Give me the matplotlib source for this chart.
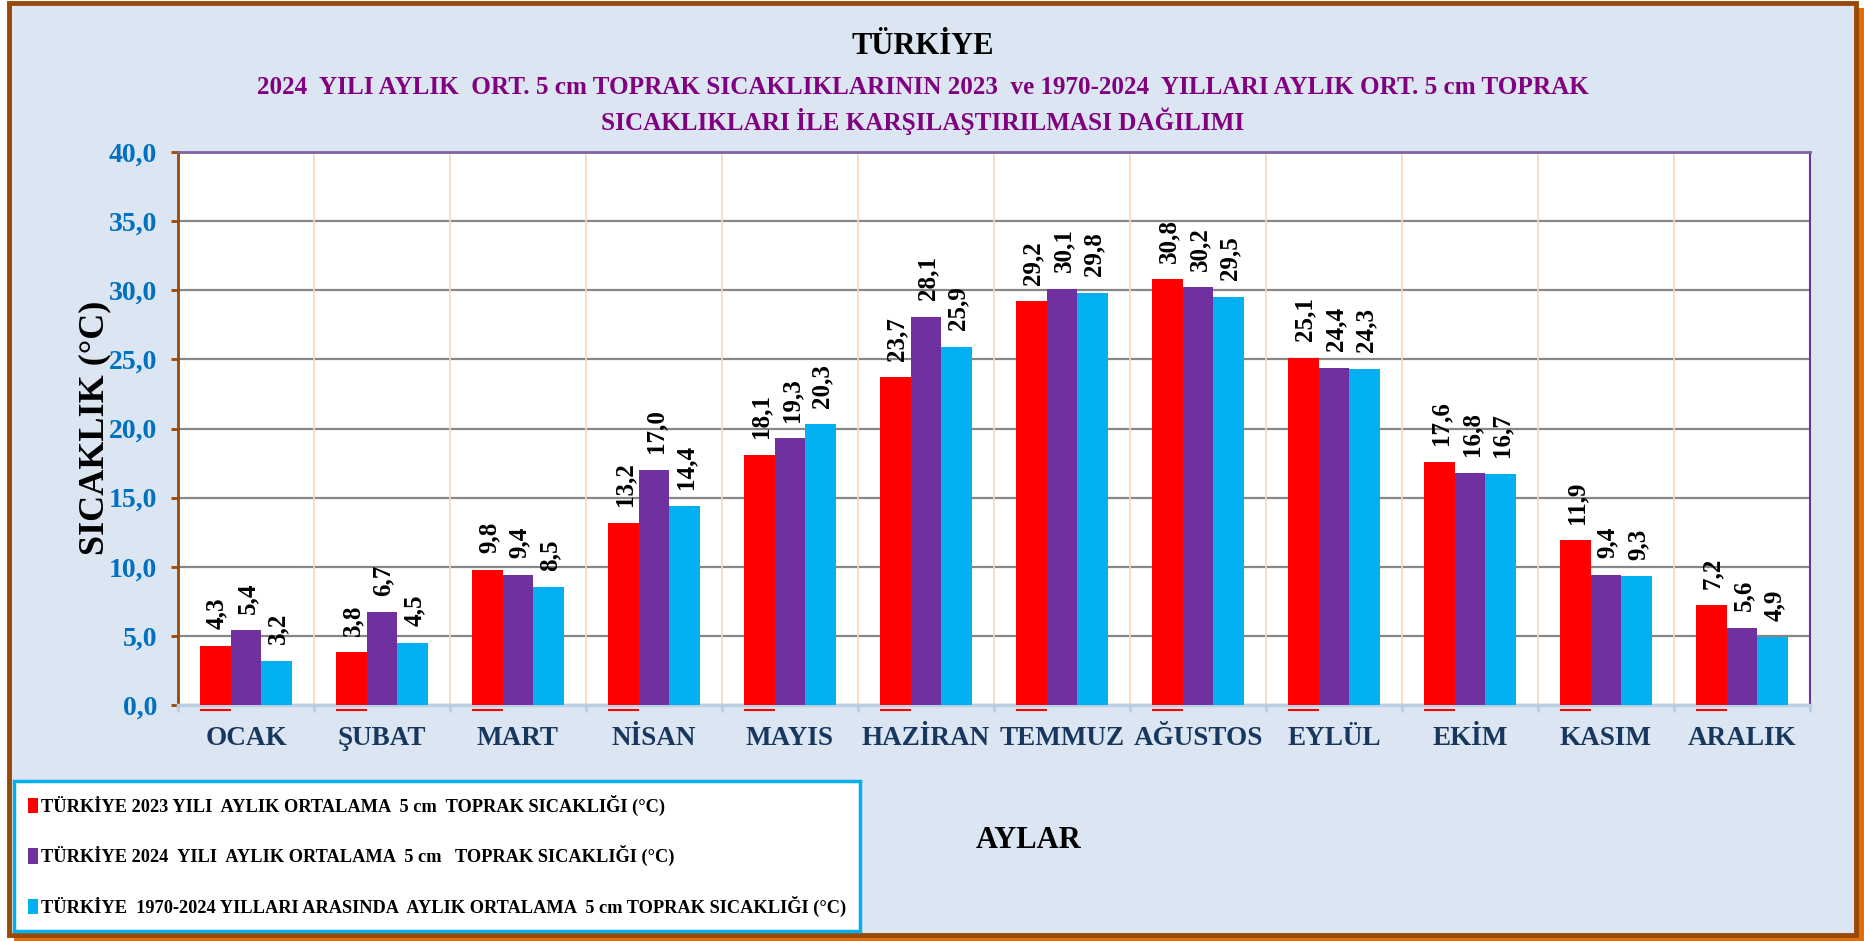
import numpy as np
import matplotlib.pyplot as plt
from matplotlib.patches import Rectangle

months = ['OCAK', 'ŞUBAT', 'MART', 'NİSAN', 'MAYIS', 'HAZİRAN', 'TEMMUZ',
          'AĞUSTOS', 'EYLÜL', 'EKİM', 'KASIM', 'ARALIK']
t2023 = [4.3, 3.8, 9.8, 13.2, 18.1, 23.7, 29.2, 30.8, 25.1, 17.6, 11.9, 7.2]
t2024 = [5.4, 6.7, 9.4, 17.0, 19.3, 28.1, 30.1, 30.2, 24.4, 16.8, 9.4, 5.6]
t_long = [3.2, 4.5, 8.5, 14.4, 20.3, 25.9, 29.8, 29.5, 24.3, 16.7, 9.3, 4.9]
names = ['TÜRKİYE 2023 YILI  AYLIK ORTALAMA  5 cm  TOPRAK SICAKLIĞI (°C)',
         'TÜRKİYE 2024  YILI  AYLIK ORTALAMA  5 cm   TOPRAK SICAKLIĞI (°C)',
         'TÜRKİYE  1970-2024 YILLARI ARASINDA  AYLIK ORTALAMA  5 cm TOPRAK SICAKLIĞI (°C)']
yticks = np.arange(0, 41, 5)

title = 'TÜRKİYE'
sub1 = '2024  YILI AYLIK  ORT. 5 cm TOPRAK SICAKLIKLARININ 2023  ve 1970-2024  YILLARI AYLIK ORT. 5 cm TOPRAK'
sub2 = 'SICAKLIKLARI İLE KARŞILAŞTIRILMASI DAĞILIMI'

plt.rcParams['font.family'] = ['Liberation Serif', 'DejaVu Serif']
plt.rcParams['font.weight'] = 'bold'

W, H = 1865, 941
fig = plt.figure(figsize=(W / 100, H / 100), dpi=100)
fig.patch.set_facecolor('white')
rend = fig.canvas.get_renderer()


def fit_size(s, target, size0=20):
    # font size giving the text a wanted pixel width
    t = fig.text(0, 0, s, fontsize=size0, fontweight='bold')
    w = t.get_window_extent(rend).width
    t.remove()
    return size0 * target / w


# panel background with brown border and orange shadow
fig.patches.append(Rectangle((14 / W, 0), (W - 14) / W, (H - 8) / H, transform=fig.transFigure,
                             facecolor='#E46C0A', edgecolor='none', zorder=-3))
fig.patches.append(Rectangle((9.5 / W, 6 / H), (1856 - 9.5) / W, (938 - 6) / H, transform=fig.transFigure,
                             facecolor='#DCE6F2', edgecolor='#984807', lw=3.5, zorder=-2))

ax = fig.add_axes([178 / W, 1 - 705 / H, (1810 - 178) / W, (705 - 152) / H])
ax.set_facecolor('white')

x = np.arange(len(months))
bw = 0.225
colors = ['#FF0000', '#7030A0', '#00B0F0']
handles = []
for k, (vals, c) in enumerate(zip([t2023, t2024, t_long], colors)):
    bars = ax.bar(x + (k - 1) * bw, vals, bw, color=c, zorder=3, label=names[k])
    handles.append(bars)
    for b, v in zip(bars, vals):
        ax.annotate(f'{v:.1f}'.replace('.', ','), (b.get_x() + b.get_width() / 2, v),
                    xytext=(1, 12), textcoords='offset points', rotation=90,
                    ha='center', va='bottom', fontsize=18, fontweight='bold', color='black')

# little red strokes under the red bars
ax.hlines(np.full(len(x), -0.35), x - 1.5 * bw, x - 0.5 * bw, colors='red', lw=1.5,
          clip_on=False, zorder=4)

ax.set_xlim(-0.5, len(months) - 0.5)
ax.set_ylim(0, 40)
ax.set_yticks(yticks, [f'{v:.1f}'.replace('.', ',') for v in yticks])
ax.tick_params(axis='y', length=5, width=2, color='#984807', pad=10,
               labelsize=20, labelcolor='#0070C0')
ax.yaxis.grid(True, color='#868686', lw=1.6)
ax.set_axisbelow(True)
ax.vlines(np.arange(0.5, len(months) - 0.5, 1), 0, 40, color='#FCD5B4', lw=1.2, zorder=1)

ax.set_xticks(x, months)
ax.set_xticks(np.arange(-0.5, len(months), 1), minor=True)
ax.tick_params(axis='x', which='major', length=0, pad=15, labelsize=19.5, labelcolor='#17375E')
ax.tick_params(axis='x', which='minor', length=5, width=2, color='#B9CDE5')

ax.spines['left'].set_color('#984807')
ax.spines['left'].set_linewidth(2)
ax.spines['top'].set_color('#8064A2')
ax.spines['top'].set_linewidth(2)
ax.spines['right'].set_color('#7030A0')
ax.spines['right'].set_linewidth(1.5)
ax.spines['bottom'].set_color('#B9CDE5')
ax.spines['bottom'].set_linewidth(2.5)

fig.text(95 / W, 1 - 428 / H, 'SICAKLIK (°C)', rotation=90, ha='center', va='center',
         fontsize=26, fontweight='bold', color='black')
fig.text(1029 / W, 1 - 840 / H, 'AYLAR', ha='center', va='center',
         fontsize=22, fontweight='bold', color='black')

fig.text(923 / W, 1 - 47 / H, title, ha='center', va='center', fontsize=22,
         fontweight='bold', color='black')
fs_sub = fit_size(sub1, 1329)
fig.text(923 / W, 1 - 88 / H, sub1, ha='center', va='center', fontsize=fs_sub,
         fontweight='bold', color='#800080')
fig.text(923 / W, 1 - 121 / H, sub2, ha='center', va='center', fontsize=fs_sub,
         fontweight='bold', color='#800080')

fs_leg = fit_size(names[2], 805)
leg = fig.legend(handles, names, loc='upper left', bbox_to_anchor=(14 / W, 1 - 781 / H),
                 frameon=True, fancybox=False, edgecolor='#00B0F0', framealpha=1,
                 fontsize=fs_leg, borderpad=0.75, labelspacing=1.6, handlelength=0.55,
                 handleheight=0.9, handletextpad=0.15, borderaxespad=0)
leg.get_frame().set_linewidth(2.5)

fig.savefig('out.png', dpi=100)
